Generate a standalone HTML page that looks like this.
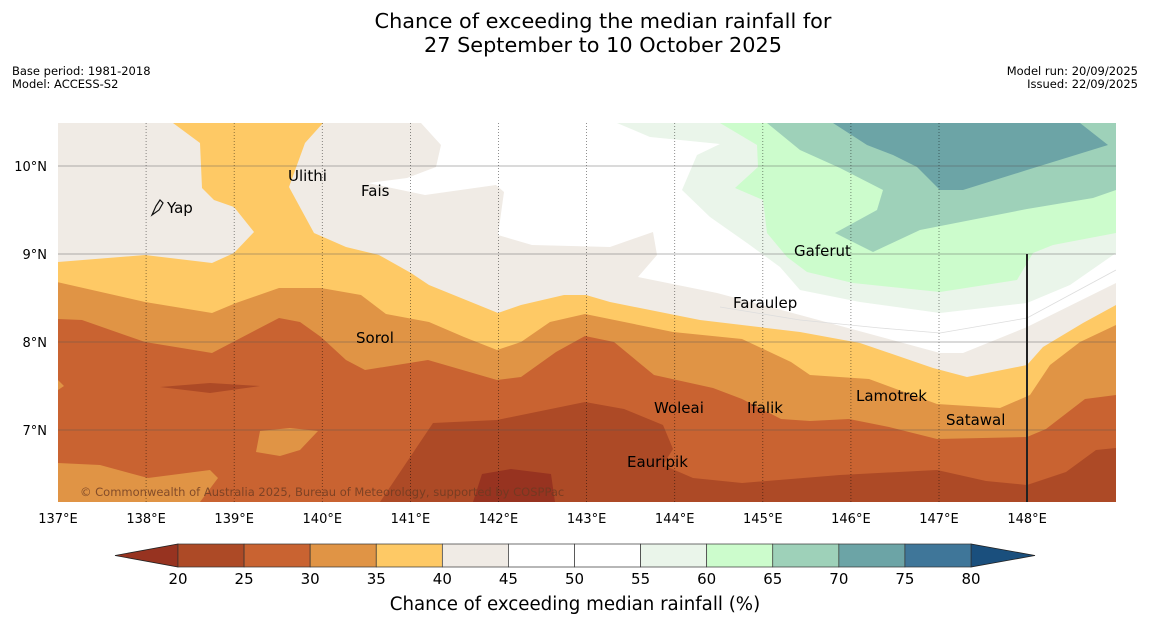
<!DOCTYPE html>
<html><head><meta charset="utf-8"><style>
body{margin:0;background:#fff;width:1150px;height:644px;overflow:hidden;font-family:"DejaVu Sans","Liberation Sans",sans-serif}
svg{position:absolute;left:0;top:0}
</style></head><body>
<svg id="chart" width="1150" height="644" viewBox="0 0 1150 644">
<text x="603" y="28" font-size="20.8" text-anchor="middle">Chance of exceeding the median rainfall for</text>
<text x="603" y="52" font-size="20.8" text-anchor="middle">27 September to 10 October 2025</text>
<text x="12" y="75" font-size="11.5">Base period: 1981-2018</text>
<text x="12" y="88" font-size="11.5">Model: ACCESS-S2</text>
<text x="1138" y="75" font-size="11.5" text-anchor="end">Model run: 20/09/2025</text>
<text x="1138" y="88" font-size="11.5" text-anchor="end">Issued: 22/09/2025</text>
<defs><clipPath id="mc"><rect x="58" y="123" width="1058" height="379"/></clipPath></defs>
<g clip-path="url(#mc)">
<rect x="58" y="123" width="1058" height="379" fill="#ffffff"/>
<polygon fill="#f0ebe5" points="58,123 421,123 441,145 436,167 407,178 368,183 425,195 496,185 504,192 498,235 532,245 610,247 653,232 657,255 638,277 717,293 800,315 940,353 963,353 1027,327 1116,283 1116,502 58,502"/>
<polygon fill="#fec965" points="58,262 145,255 212,263 234,253 254,232 234,207 214,200 202,188 200,143 173,123 323,123 305,143 289,187 314,233 346,247 379,255 411,273 429,285 498,313 521,305 564,295 586,295 610,302 700,320 800,332 860,343 933,368 967,377 1027,365 1043,347 1083,323 1116,305 1116,502 58,502"/>
<polygon fill="#e09445" points="57,282 145,302 212,313 236,303 279,288 321,288 361,295 386,314 429,322 464,337 497,350 521,342 550,322 585,314 673,332 742,339 791,362 810,375 869,379 937,404 1000,408 1030,395 1050,365 1080,342 1116,325 1116,502 57,502"/>
<polygon fill="#c96331" points="58,319 82,320 145,342 212,353 279,318 300,322 321,337 346,360 365,370 428,360 497,380 521,377 556,352 585,336 614,342 654,375 713,388 742,399 781,419 810,421 849,419 889,427 937,439 1027,437 1046,429 1085,399 1116,395 1116,502 58,502"/>
<polygon fill="#e09445" points="260,431 290,428 318,431 300,450 280,456 256,452"/>
<polygon fill="#e09445" points="58,463 100,465 148,478 210,470 218,478 200,502 58,502"/>
<polygon fill="#e09445" points="58,380 64,386 58,390"/>
<polygon fill="#ad4a26" points="380,502 433,423 497,420 585,402 624,409 663,425 673,449 663,465 693,478 742,483 840,475 937,470 986,481 1027,485 1066,472 1096,450 1116,448 1116,502"/>
<polygon fill="#ad4a26" points="160,387 210,383 260,386 210,393"/>
<polygon fill="#973320" points="482,474 511,469 551,474 555,502 473,502"/>
<polygon fill="#eaf5ea" points="617,123 650,137 720,144 697,155 682,190 710,217 747,243 780,267 800,290 860,302 940,313 1027,303 1070,285 1116,253 1116,123"/>
<polygon fill="#ccfccc" points="720,123 757,145 758,167 735,188 763,200 767,233 787,257 807,272 853,283 940,292 1017,280 1033,253 1053,245 1116,233 1116,123"/>
<polygon fill="#9ed1b9" points="767,123 800,150 840,168 883,190 877,210 835,233 873,252 920,230 1027,209 1093,198 1116,190 1116,123"/>
<polygon fill="#6ca4a6" points="833,123 867,145 893,155 917,167 940,190 963,190 1027,170 1108,145 1080,123"/>
<polyline fill="none" stroke="#dddddd" stroke-width="0.8" points="720,307 800,320 880,328 940,333 1027,318 1116,270"/>
<g id="grid"></g>
<line x1="1027" y1="254" x2="1027" y2="502" stroke="#222" stroke-width="2"/>
<text x="80" y="496" font-size="11.5" fill="#6b3a22" fill-opacity="0.8">© Commonwealth of Australia 2025, Bureau of Meteorology, supported by COSPPac</text>
</g>
<g id="islands" font-size="15">
<path d="M152,215 L156,206 L160,200 L163,203 L159,210 Z" fill="none" stroke="#111" stroke-width="1.2"/>
<text x="167" y="213">Yap</text>
<text x="288" y="181">Ulithi</text>
<text x="361" y="196">Fais</text>
<text x="794" y="256">Gaferut</text>
<text x="733" y="308">Faraulep</text>
<text x="356" y="343">Sorol</text>
<text x="856" y="401">Lamotrek</text>
<text x="654" y="413">Woleai</text>
<text x="747" y="413">Ifalik</text>
<text x="946" y="425">Satawal</text>
<text x="627" y="467">Eauripik</text>
</g>
<g id="axes" font-size="13"></g>
<g id="cbar"></g>
<text x="575" y="610" font-size="18.2" text-anchor="middle">Chance of exceeding median rainfall (%)</text>
</svg>
<script>
const lonTicks=[137,138,139,140,141,142,143,144,145,146,147,148];
const latTicks=[10,9,8,7];
const cbLevels=[20,25,30,35,40,45,50,55,60,65,70,75,80];
const cbColors=['#ad4a26','#c96331','#e09445','#fec965','#f0ebe5','#ffffff','#ffffff','#eaf5ea','#ccfccc','#9ed1b9','#6ca4a6','#3f7699'];
const cbUnder='#973320', cbOver='#1a4f7d';
const NS='http://www.w3.org/2000/svg';
function xOf(lon){return 58+(lon-137)*88.1;}
function yOf(lat){return 166+(10-lat)*88;}
function mk(tag,at,parent){const e=document.createElementNS(NS,tag);for(const k in at)e.setAttribute(k,at[k]);parent.appendChild(e);return e;}
const grid=document.getElementById('grid'),axes=document.getElementById('axes'),cb=document.getElementById('cbar');
lonTicks.forEach(l=>{
  if(l>137&&l<148){const ln=mk('line',{x1:xOf(l),y1:123,x2:xOf(l),y2:502,stroke:'rgba(0,0,0,0.55)','stroke-width':0.8,'stroke-dasharray':'1,2'},grid);
  
  }
  const t=mk('text',{x:xOf(l),y:523,'text-anchor':'middle'},axes);t.textContent=l+'°E';
  
  
});
latTicks.forEach(l=>{
  const ln=mk('line',{x1:58,y1:yOf(l),x2:1116,y2:yOf(l),stroke:'rgba(90,90,90,0.35)','stroke-width':1.2},grid);
  
  
  const t=mk('text',{x:47,y:yOf(l)+5,'text-anchor':'end'},axes);t.textContent=l+'°N';
  
  
});
const cx0=178,cx1=971,cy=544,ch=23,sw=(cx1-cx0)/cbColors.length;
const u=mk('polygon',{points:`115,${cy+ch/2} ${cx0},${cy} ${cx0},${cy+ch}`,fill:cbUnder,stroke:'#222','stroke-width':0.8},cb);


const o=mk('polygon',{points:`1035,${cy+ch/2} ${cx1},${cy} ${cx1},${cy+ch}`,fill:cbOver,stroke:'#222','stroke-width':0.8},cb);


cbColors.forEach((c,i)=>{
  const r=mk('rect',{x:cx0+i*sw,y:cy,width:sw,height:ch,fill:c,stroke:'#333','stroke-width':0.7},cb);
  
  
});
cbLevels.forEach((v,i)=>{
  const t=mk('text',{x:cx0+i*sw,y:584,'font-size':15,'text-anchor':'middle'},cb);t.textContent=v;
  
  
});
</script>
</body></html>
